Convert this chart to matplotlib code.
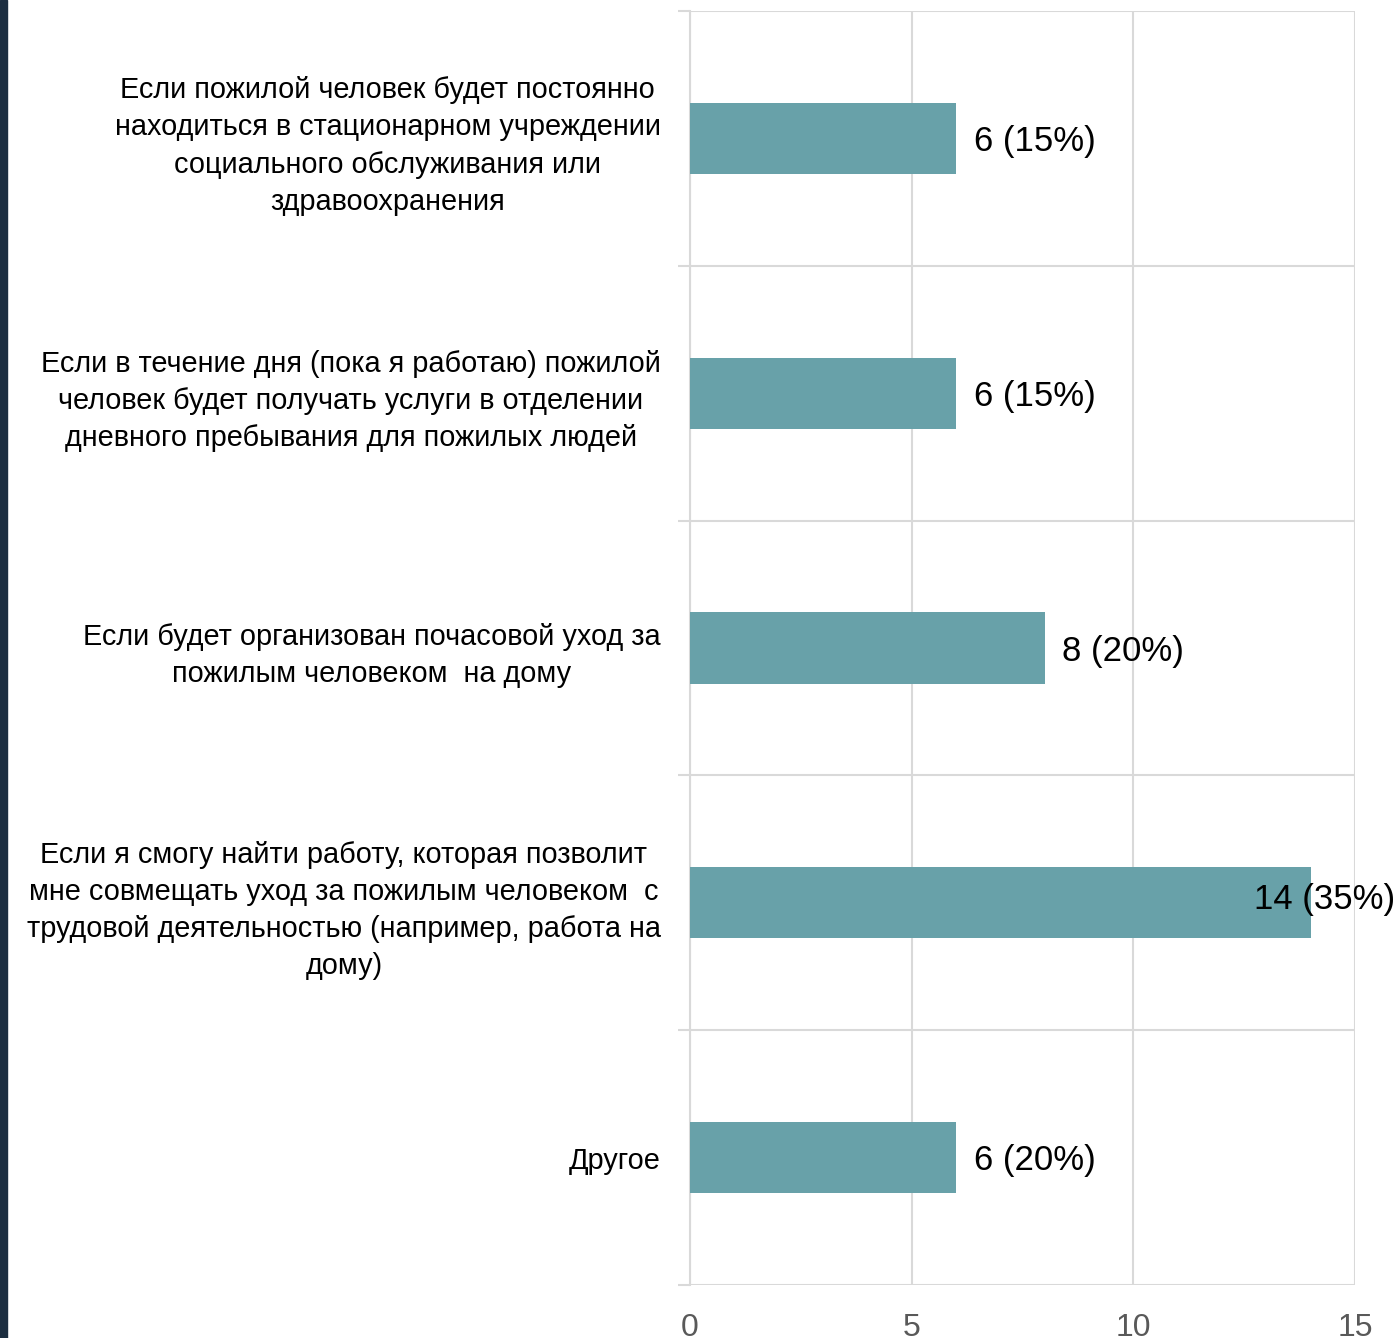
import matplotlib.pyplot as plt
import numpy as np

plt.switch_backend('Agg')

# Данные
categories = [
    'Если пожилой человек будет постоянно\nнаходиться в стационарном учреждении\nсоциального обслуживания или\nздравоохранения',
    'Если в течение дня (пока я работаю) пожилой\nчеловек будет получать услуги в отделении\nдневного пребывания для пожилых людей',
    'Если будет организован почасовой уход за\nпожилым человеком  на дому',
    'Если я смогу найти работу, которая позволит\nмне совмещать уход за пожилым человеком  с\nтрудовой деятельностью (например, работа на\nдому)',
    'Другое',
]
values = [6, 6, 8, 14, 6]
percents = ['15%', '15%', '20%', '35%', '20%']
x_ticks = [0, 5, 10, 15]

BAR_COLOR = '#68a1a9'
GRID_COLOR = '#d9d9d9'
FONT = ['Liberation Sans', 'DejaVu Sans']

fig = plt.figure(figsize=(14, 13.38), dpi=100)
# тёмная полоса слева
fig.patches.append(plt.Rectangle((0, 0), 7 / 1400, 1, transform=fig.transFigure,
                                 color='#1c2e40', zorder=0))

ax = fig.add_axes([690 / 1400, 1 - 1285 / 1338, 665 / 1400, 1274 / 1338])

y = np.arange(len(categories))
ax.barh(y, values, height=0.28, color=BAR_COLOR, zorder=3)

xmax = x_ticks[-1]
for yi, v, p in zip(y, values, percents):
    label = f'{v} ({p})'
    if v + 3 > xmax:
        # не помещается справа — прижимаем к правому краю рисунка
        ax.annotate(label, xy=(1, yi), xycoords=('axes fraction', 'data'),
                    xytext=(40, 3), textcoords='offset pixels',
                    va='center', ha='right', fontsize=25, family=FONT, zorder=4)
    else:
        ax.text(v + 0.4, yi + 0.012, label, va='center', ha='left',
                fontsize=25, family=FONT, color='black', zorder=4)

ax.set_xlim(0, xmax)
ax.set_ylim(len(categories) - 0.5, -0.5)
ax.set_xticks(x_ticks)
ax.set_xticklabels([str(t) for t in x_ticks], fontsize=23, family=FONT, color='#595959')

# подписи категорий
ax.set_yticks(y)
ax.set_yticklabels(categories, fontsize=20.8, family=FONT, multialignment='center',
                   linespacing=1.42)
ax.tick_params(axis='y', which='major', length=0, pad=21)
ax.tick_params(axis='x', length=0, pad=20)

# границы категорий
ax.set_yticks(np.arange(-0.5, len(categories)), minor=True)
ax.tick_params(axis='y', which='minor', length=9, color=GRID_COLOR, width=1.5)
ax.grid(axis='y', which='minor', color=GRID_COLOR, linewidth=1.5, zorder=0)
ax.grid(axis='x', which='major', color=GRID_COLOR, linewidth=1.5, zorder=0)

for s in ['top', 'right', 'bottom']:
    ax.spines[s].set_visible(False)
ax.spines['left'].set_color(GRID_COLOR)
ax.spines['left'].set_linewidth(1.5)

plt.savefig('out.png', dpi=100)
